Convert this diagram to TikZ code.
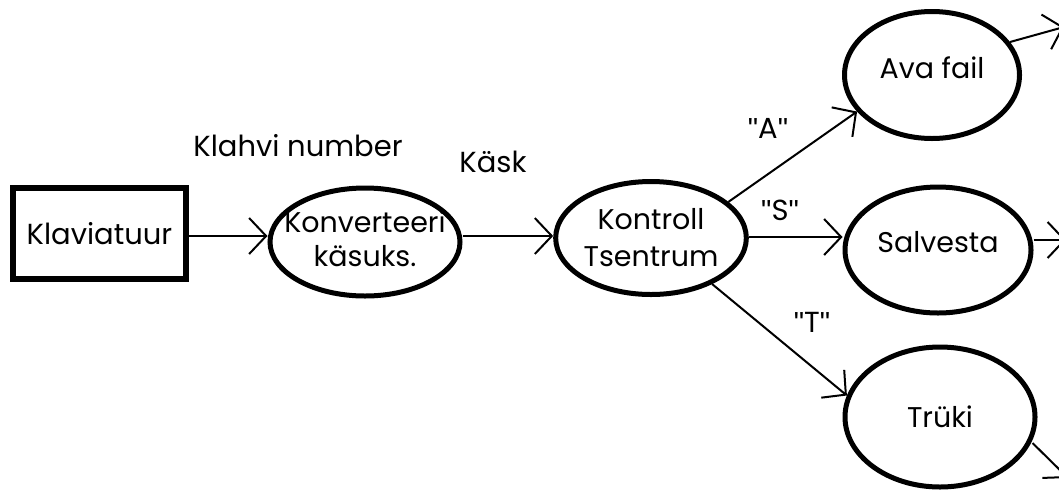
\documentclass[tikz,border=0pt]{standalone}
\usepackage{fontspec}
\setmainfont{Poppins}
\newfontfamily\qfont{Liberation Sans}
\newcommand{\qq}[1]{{\qfont"}#1{\qfont"}}
\usetikzlibrary{arrows.meta,shapes.geometric}
\tikzset{
  proc/.style={draw, ellipse, line width=5pt, inner sep=0pt, align=center, font=\fontsize{28.5}{37}\selectfont},
  ext/.style={draw, rectangle, line width=6pt, inner sep=0pt, font=\fontsize{29}{36}\selectfont},
  flow/.style={line width=2pt, -{Straight Barb[length=17pt,width=36pt,line width=2pt]}},
  lab/.style={font=\fontsize{29}{32}\selectfont, inner sep=0pt}
}
\begin{document}
\begin{tikzpicture}[x=1pt,y=-1pt]
\path[use as bounding box, clip] (0,0) rectangle (1059,491);
\node[ext, minimum width=173pt, minimum height=91pt] (kl) at (99.5,233.5) {Klaviatuur};
\node[proc, minimum width=190pt, minimum height=108pt] (konv) at (365,242) {\makebox[0pt]{\begin{tabular}{@{}c@{}}Konverteeri\\[-3pt]käsuks.\end{tabular}}};
\node[proc, minimum width=188pt, minimum height=113pt] (kontr) at (651,238) {Kontroll\\Tsentrum};
\node[proc, minimum width=175pt, minimum height=127pt] (ava) at (932,75) {\raisebox{-3pt}[0pt][0pt]{Ava fail}};
\node[proc, minimum width=186pt, minimum height=126pt] (salv) at (938,250) {\raisebox{-2pt}[0pt][0pt]{Salvesta}};
\node[proc, minimum width=190pt, minimum height=140pt] (truki) at (940,417) {Trüki};
\coordinate (avaout) at (1064,27);
\coordinate (salvout) at (1066,240);
\coordinate (trukiout) at (1068,478);
\node[lab] (l1) at (298,146) {Klahvi number};
\node[lab] (l2) at (493,162) {Käsk};
\node[lab] (la) at (768,128) {\qq{A}};
\node[lab] (ls) at (780,210) {\qq{S}};
\node[lab] (lt) at (812,322) {\qq{T}};
\draw[flow] (kl.east |- 0,236) -- (konv.west |- 0,236);
\draw[flow] (konv.east |- 0,236) -- (kontr.west |- 0,236);
\draw[flow] (kontr.25) -- (ava.206);
\draw[flow] (kontr.east |- 0,237) -- (salv.west |- 0,237);
\draw[flow] (kontr.-37) -- (truki.167);
\draw[flow] (ava.east) ++(-12,-33) -- (avaout);
\draw[flow] (salv.east |- 0,240) -- (salvout);
\draw[flow] (truki.east) ++(-5,26) -- (trukiout);
\end{tikzpicture}
\end{document}
